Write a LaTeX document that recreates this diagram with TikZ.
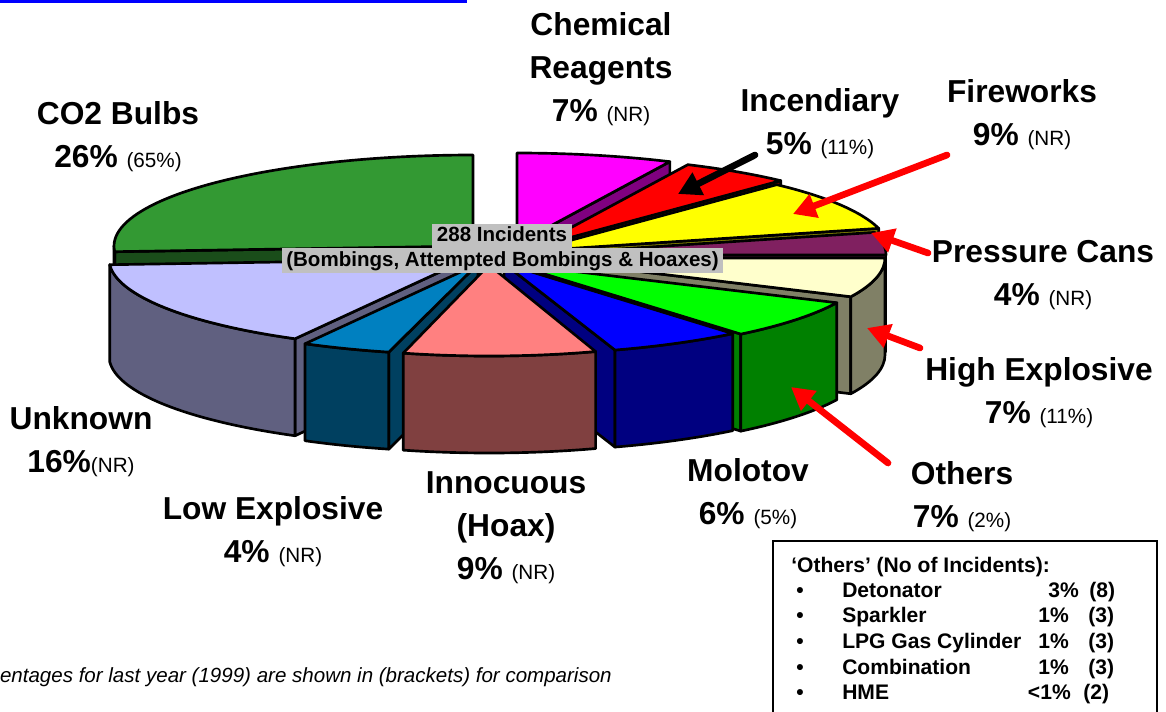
\documentclass[tikz,border=0pt]{standalone}
\usepackage{fontspec}
\setmainfont{Liberation Sans}
\usetikzlibrary{arrows.meta}
\newcommand{\lastyr}[1]{{\fontsize{15.5}{18}\mdseries\selectfont #1}}

\begin{document}
\begin{tikzpicture}[x=0.75pt,y=0.75pt,yscale=-1,xscale=1,x radius=359,y radius=91,
  slice/.style={draw=black,line width=2,line join=round},
  lbl/.style={align=center,inner sep=0.75pt,font=\bfseries\fontsize{23.8}{32.25}\selectfont},
  ptr/.style={line width=5,line cap=round,-{Triangle[length=17pt,width=18pt]}},
  totbox/.style={fill={rgb, 255:red, 192; green, 192; blue, 192 },inner xsep=3.6pt,inner ysep=0pt,text height=11.6pt,text depth=3.2pt,minimum height=18.6pt,font=\bfseries\fontsize{15.4}{17}\selectfont},
  legtxt/.style={inner sep=0.75pt,font=\bfseries\fontsize{15.8}{18}\selectfont}]
\useasboundingbox (0,0) rectangle (1166,711);

%Straight Lines [id:top frame]
\draw [color={rgb, 255:red, 0; green, 0; blue, 255 }  ,line width=2]  (0,1.5) -- (466,1.5) -- (466,0) ;

%Shape: Slice [id:chemical]
\draw [slice,fill={rgb, 255:red, 128; green, 0; blue, 128 }] (517,244) -- ++(-64.8:359 and 91) -- ++(0,97) -- (517,341) -- cycle ;
\draw [slice,fill={rgb, 255:red, 255; green, 0; blue, 255 }] (517,244) -- ++(-90:359 and 91) arc[start angle=-90,end angle=-64.8] -- cycle ;
%Shape: Slice [id:incendiary]
\draw [slice,fill={rgb, 255:red, 128; green, 0; blue, 0 }] (535,247) -- ++(-46.8:359 and 91) -- ++(0,97) -- (535,344) -- cycle ;
\draw [slice,fill={rgb, 255:red, 255; green, 0; blue, 0 }] (535,247) -- ++(-64.8:359 and 91) arc[start angle=-64.8,end angle=-46.8] -- cycle ;
%Shape: Slice [id:co2]
\draw [slice,fill={rgb, 255:red, 26; green, 77; blue, 26 }] (473,246) -- ++(176.4:359 and 91) -- ++(0,97) -- (473,343) -- cycle ;
\draw [slice,fill={rgb, 255:red, 26; green, 77; blue, 26 }] (473,246) ++(176.4:359 and 91) arc[start angle=176.4,end angle=180] -- ++(0,97) arc[start angle=180,end angle=176.4] -- cycle ;
\draw [slice,fill={rgb, 255:red, 51; green, 153; blue, 51 }] (473,246) -- ++(176.4:359 and 91) arc[start angle=176.4,end angle=270] -- cycle ;
%Shape: Slice [id:fireworks]
\draw [slice,fill={rgb, 255:red, 128; green, 128; blue, 0 }] (531,251) -- ++(-14.4:359 and 91) -- ++(0,97) -- (531,348) -- cycle ;
\draw [slice,fill={rgb, 255:red, 255; green, 255; blue, 0 }] (531,251) -- ++(-46.8:359 and 91) arc[start angle=-46.8,end angle=-14.4] -- cycle ;
%Shape: Slice [id:pressure cans]
\draw [slice,fill={rgb, 255:red, 64; green, 16; blue, 48 }] (527,255) -- ++(0:359 and 91) -- ++(0,97) -- (527,352) -- cycle ;
\draw [slice,fill={rgb, 255:red, 128; green, 32; blue, 96 }] (527,255) -- ++(-14.4:359 and 91) arc[start angle=-14.4,end angle=0] -- cycle ;
%Shape: Slice [id:high explosive]
\draw [slice,fill={rgb, 255:red, 128; green, 128; blue, 102 }] (526,258) -- ++(25.2:359 and 91) -- ++(0,97) -- (526,355) -- cycle ;
\draw [slice,fill={rgb, 255:red, 128; green, 128; blue, 102 }] (526,258) ++(0:359 and 91) arc[start angle=0,end angle=25.2] -- ++(0,97) arc[start angle=25.2,end angle=0] -- cycle ;
\draw [slice,fill={rgb, 255:red, 255; green, 255; blue, 204 }] (526,258) -- ++(0:359 and 91) arc[start angle=0,end angle=25.2] -- cycle ;
%Shape: Slice [id:unknown]
\draw [slice,fill={rgb, 255:red, 96; green, 96; blue, 128 }] (468,259) -- ++(118.8:359 and 91) -- ++(0,97) -- (468,356) -- cycle ;
\draw [slice,fill={rgb, 255:red, 96; green, 96; blue, 128 }] (468,259) ++(118.8:359 and 91) arc[start angle=118.8,end angle=176.4] -- ++(0,97) arc[start angle=176.4,end angle=118.8] -- cycle ;
\draw [slice,fill={rgb, 255:red, 192; green, 192; blue, 255 }] (468,259) -- ++(118.8:359 and 91) arc[start angle=118.8,end angle=176.4] -- cycle ;
%Shape: Slice [id:others]
\draw [slice,fill={rgb, 255:red, 0; green, 128; blue, 0 }] (512,264) -- ++(50.4:359 and 91) -- ++(0,97) -- (512,361) -- cycle ;
\draw [slice,fill={rgb, 255:red, 0; green, 128; blue, 0 }] (512,264) ++(25.2:359 and 91) arc[start angle=25.2,end angle=50.4] -- ++(0,97) arc[start angle=50.4,end angle=25.2] -- cycle ;
\draw [slice,fill={rgb, 255:red, 0; green, 255; blue, 0 }] (512,264) -- ++(25.2:359 and 91) arc[start angle=25.2,end angle=50.4] -- cycle ;
%Shape: Slice [id:molotov]
\draw [slice,fill={rgb, 255:red, 0; green, 0; blue, 128 }] (504,263.5) -- ++(72:359 and 91) -- ++(0,97) -- (504,360.5) -- cycle ;
\draw [slice,fill={rgb, 255:red, 0; green, 0; blue, 128 }] (504,263.5) ++(50.4:359 and 91) arc[start angle=50.4,end angle=72] -- ++(0,97) arc[start angle=72,end angle=50.4] -- cycle ;
\draw [slice,fill={rgb, 255:red, 0; green, 0; blue, 255 }] (504,263.5) -- ++(50.4:359 and 91) arc[start angle=50.4,end angle=72] -- cycle ;
%Shape: Slice [id:low explosive]
\draw [slice,fill={rgb, 255:red, 0; green, 64; blue, 96 }] (478,264) -- ++(104.4:359 and 91) -- ++(0,97) -- (478,361) -- cycle ;
\draw [slice,fill={rgb, 255:red, 0; green, 64; blue, 96 }] (478,264) ++(104.4:359 and 91) arc[start angle=104.4,end angle=118.8] -- ++(0,97) arc[start angle=118.8,end angle=104.4] -- cycle ;
\draw [slice,fill={rgb, 255:red, 0; green, 128; blue, 192 }] (478,264) -- ++(104.4:359 and 91) arc[start angle=104.4,end angle=118.8] -- cycle ;
%Shape: Slice [id:innocuous]
\draw [slice,fill={rgb, 255:red, 128; green, 64; blue, 64 }] (489,265) ++(72:345 and 91) arc[start angle=72,end angle=104.4,x radius=345] -- ++(0,97) arc[start angle=104.4,end angle=72,x radius=345] -- cycle ;
\draw [slice,fill={rgb, 255:red, 255; green, 128; blue, 128 }] (489,265) -- ++(72:345 and 91) arc[start angle=72,end angle=104.4,x radius=345] -- cycle ;

% Text Node
\draw (502,236) node (tot1) [totbox] {288 Incidents};
% Text Node
\draw (502.5,260.5) node (tot2) [totbox] {(Bombings, Attempted Bombings \& Hoaxes)};

% Text Node
\draw (601,69) node (chemLbl) [lbl] {Chemical\\Reagents\\7\% \lastyr{(NR)}};
% Text Node
\draw (118,137) node (co2Lbl) [lbl] {CO2 Bulbs\\26\% \lastyr{(65\%)}};
% Text Node
\draw (820,123.5) node (incLbl) [lbl] {Incendiary\\5\% \lastyr{(11\%)}};
% Text Node
\draw (1022,115) node (fwLbl) [lbl] {Fireworks\\9\% \lastyr{(NR)}};
% Text Node
\draw (1043,275.5) node (pcLbl) [lbl] {Pressure Cans\\4\% \lastyr{(NR)}};
% Text Node
\draw (1039,392.5) node (heLbl) [lbl] {High Explosive\\7\% \lastyr{(11\%)}};
% Text Node
\draw (962,496.5) node (othLbl) [lbl] {Others\\7\% \lastyr{(2\%)}};
% Text Node
\draw (748,493.5) node (molLbl) [lbl] {Molotov\\6\% \lastyr{(5\%)}};
% Text Node
\draw (506,528) node (innLbl) [lbl] {Innocuous\\(Hoax)\\9\% \lastyr{(NR)}};
% Text Node
\draw (273,532) node (lowLbl) [lbl] {Low Explosive\\4\% \lastyr{(NR)}};
% Text Node
\draw (81,441.5) node (unkLbl) [lbl] {Unknown\\16\%\lastyr{(NR)}};

%Arrows
\coordinate (incTail) at (755,155); \coordinate (incTip) at (678,194);
\coordinate (fwTail) at (947,155); \coordinate (fwTip) at (793,214);
\coordinate (pcTail) at (928,253); \coordinate (pcTip) at (871,233);
\coordinate (heTail) at (920,348); \coordinate (heTip) at (867,328);
\coordinate (othTail) at (888,463); \coordinate (othTip) at (791,387);
\draw [ptr,color=black] (incTail) -- (incTip) ;
\draw [ptr,color={rgb, 255:red, 255; green, 0; blue, 0 }] (fwTail) -- (fwTip) ;
\draw [ptr,color={rgb, 255:red, 255; green, 0; blue, 0 }] (pcTail) -- (pcTip) ;
\draw [ptr,color={rgb, 255:red, 255; green, 0; blue, 0 }] (heTail) -- (heTip) ;
\draw [ptr,color={rgb, 255:red, 255; green, 0; blue, 0 }] (othTail) -- (othTip) ;

%Shape: Rectangle [id:others box]
\draw [line width=1.5] (773,541) rectangle (1157,730) ;
% Text Node
\draw (790,572.5) node (legTitle) [legtxt,anchor=base west] {‘Others’ (No of Incidents):};
% Text Node
\draw (800,597.5) node (b1) [legtxt,anchor=base] {\textbullet};
\draw (841,597.5) node (l1) [legtxt,anchor=base west] {Detonator};
\draw (1080,597.5) node (p1) [legtxt,anchor=base east] {3\%};
\draw (1088,597.5) node (n1) [legtxt,anchor=base west] {(8)};
% Text Node
\draw (800,622.5) node (b2) [legtxt,anchor=base] {\textbullet};
\draw (841,622.5) node (l2) [legtxt,anchor=base west] {Sparkler};
\draw (1070,622.5) node (p2) [legtxt,anchor=base east] {1\%};
\draw (1087,622.5) node (n2) [legtxt,anchor=base west] {(3)};
% Text Node
\draw (800,648.5) node (b3) [legtxt,anchor=base] {\textbullet};
\draw (841,648.5) node (l3) [legtxt,anchor=base west] {LPG Gas Cylinder};
\draw (1070,648.5) node (p3) [legtxt,anchor=base east] {1\%};
\draw (1087,648.5) node (n3) [legtxt,anchor=base west] {(3)};
% Text Node
\draw (800,674.5) node (b4) [legtxt,anchor=base] {\textbullet};
\draw (841,674.5) node (l4) [legtxt,anchor=base west] {Combination};
\draw (1070,674.5) node (p4) [legtxt,anchor=base east] {1\%};
\draw (1087,674.5) node (n4) [legtxt,anchor=base west] {(3)};
% Text Node
\draw (800,699.5) node (b5) [legtxt,anchor=base] {\textbullet};
\draw (841,699.5) node (l5) [legtxt,anchor=base west] {HME};
\draw (1072,699.5) node (p5) [legtxt,anchor=base east] {<1\%};
\draw (1082,699.5) node (n5) [legtxt,anchor=base west] {(2)};

% Text Node
\draw (613,677) node (note) [anchor=east,inner sep=0.75pt,font=\itshape\fontsize{15.4}{17}\selectfont] {entages for last year (1999) are shown in (brackets) for comparison};

\end{tikzpicture}
\end{document}
